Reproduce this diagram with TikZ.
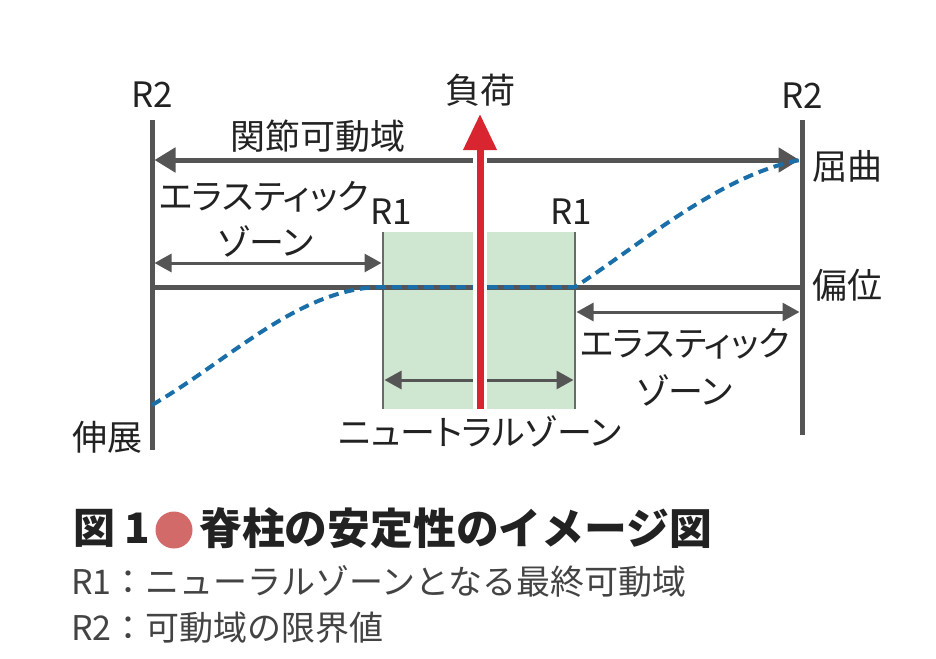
\documentclass[tikz,border=0pt]{standalone}
\usepackage{fontspec}
\setmainfont{Noto Sans CJK JP}
\newfontfamily\propjp[RawFeature=+palt]{Noto Sans CJK JP}
\usetikzlibrary{arrows.meta}

\definecolor{axisgray}{HTML}{555555}
\definecolor{boxgray}{HTML}{6A6A6A}
\definecolor{loadred}{HTML}{D9252F}
\definecolor{curveblue}{HTML}{1A6FA8}
\definecolor{zonegreen}{HTML}{CFE6D0}
\definecolor{dotred}{HTML}{D26A6A}
\definecolor{inkblack}{HTML}{222222}

\begin{document}
\begin{tikzpicture}[x=1pt, y=-1pt,
        lbl/.style={inner sep=0pt, text=inkblack, font=\propjp\fontsize{35}{40}\selectfont},
        captext/.style={inner sep=0pt, anchor=west, text=inkblack, font=\bfseries\fontsize{42}{48}\selectfont},
        legend/.style={inner sep=0pt, anchor=west, text=inkblack!85, font=\fontsize{34}{40}\selectfont},
        axis/.style={draw=axisgray, line width=5pt},
        romarrow/.style={draw=axisgray, line width=5pt, {Triangle[length=21pt,width=24pt]}-{Triangle[length=21pt,width=24pt]}},
        zonearrow/.style={draw=axisgray, line width=3pt, {Triangle[length=17pt,width=18pt]}-{Triangle[length=17pt,width=18pt]}},
        curve/.style={draw=curveblue, line width=4pt, dash pattern=on 10pt off 6pt}
    ]
        \useasboundingbox (0,0) rectangle (936,658);

        % Points
        \coordinate (ltop) at (152,120);
        \coordinate (lbot) at (152,450);
        \coordinate (rtop) at (802,120);
        \coordinate (rbot) at (802,435);
        \coordinate (basel) at (152,287);
        \coordinate (baser) at (802,287);
        \coordinate (nzl) at (383,287);
        \coordinate (nzr) at (575,287);
        \coordinate (extpt) at (152,405);
        \coordinate (flexpt) at (800,160);
        \coordinate (loadbot) at (480,409);
        \coordinate (loadtop) at (480,114);
        \coordinate (loadneck) at (480,150);

        % Neutral zone box
        \fill[zonegreen] (383,232) rectangle (575,409);
        \draw[boxgray, line width=2.5pt] (383,232) -- (383,409);
        \draw[boxgray, line width=2.5pt] (575,232) -- (575,409);

        % Axes
        \draw[axis] (ltop) -- (lbot);
        \draw[axis] (rtop) -- (rbot);
        \draw[axis] (basel) -- (baser);

        % Ranges
        \draw[romarrow] (154.5,160) -- (799.5,160);
        \draw[zonearrow] (154.5,263) -- (381.5,263);
        \draw[zonearrow] (576.5,312) -- (799.5,312);
        \draw[zonearrow] (384.5,380) -- (573.5,380);

        % Curve
        \draw[curve] (extpt) .. controls (230,360) and (300,287) .. (nzl)
            -- (nzr) .. controls (640,245) and (720,175) .. (flexpt);

        % Load
        \draw[white, line width=14pt] (loadbot) -- (loadneck);
        \draw[loadred, line width=7pt, -{Triangle[length=36pt,width=32pt]}] (loadbot) -- (loadtop);

        % Labels
        \node[lbl] (r2l) at (152,95) {R2};
        \node[lbl] (r2r) at (802,96) {R2};
        \node[lbl] (load) at (480,90) {負荷};
        \node[lbl] (rom) at (318,136) {関節可動域};
        \node[lbl] (flex) at (847,166) {屈曲};
        \node[lbl] (disp) at (847,285) {偏位};
        \node[lbl] (ext) at (107,437) {伸展};
        \node[lbl] (r1l) at (391,212) {R1};
        \node[lbl] (r1r) at (571,212) {R1};
        \node[lbl] (ezl) at (264,197) {エラスティック};
        \node[lbl] (ezl2) at (266,241) {ゾーン};
        \node[lbl] (ezr) at (685,344) {エラスティック};
        \node[lbl] (ezr2) at (685,390) {ゾーン};
        \node[lbl] (nz) at (480,431) {ニュートラルゾーン};

        % Caption
        \node[captext] (fignum) at (73,528) {図\hspace{0.22em}1};
        \node[circle, fill=dotred, minimum size=37pt, inner sep=0pt] (dot) at (174,530) {};
        \node[captext, font=\bfseries\fontsize{42.8}{48}\selectfont] (title) at (199,528) {脊柱の安定性のイメージ図};
        \node[legend] (r1def) at (71,581) {R1：ニューラルゾーンとなる最終可動域};
        \node[legend] (r2def) at (71,628) {R2：可動域の限界値};

    \end{tikzpicture}
\end{document}
